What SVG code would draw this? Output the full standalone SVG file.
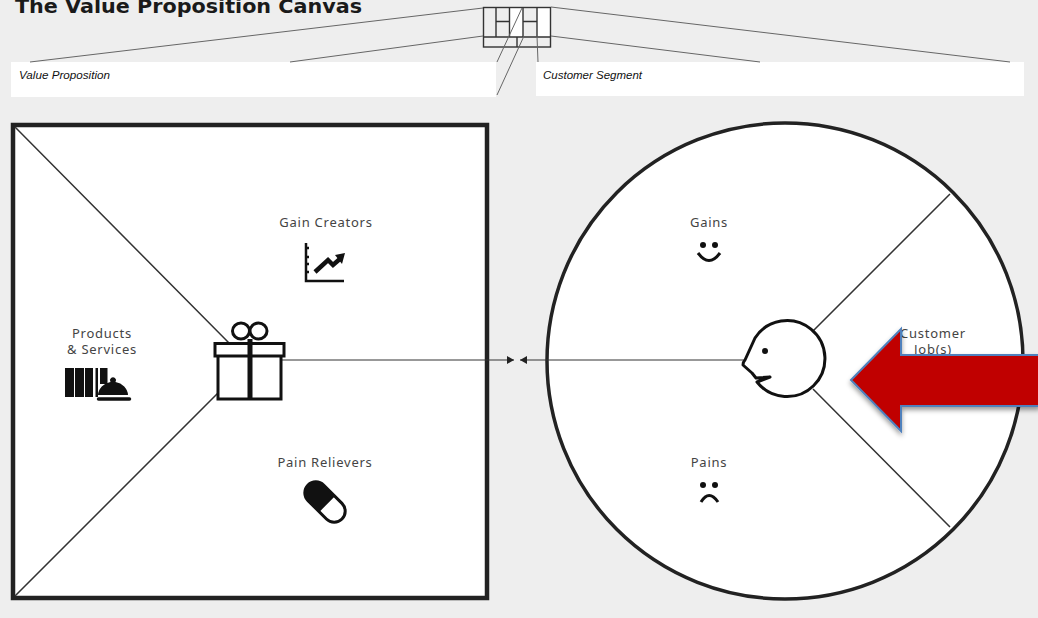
<svg xmlns="http://www.w3.org/2000/svg" width="1038" height="618" viewBox="0 0 1038 618">
<style>
.t{font-family:"Noto Sans","Liberation Sans",sans-serif;font-size:13px;fill:#444;text-anchor:middle;letter-spacing:.75px}
.i{font-family:"Liberation Sans",sans-serif;font-size:10.5px;font-style:italic;fill:#111}
.thin{fill:none;stroke:#666;stroke-width:1}
.div{fill:none;stroke:#333;stroke-width:1.5}
.s{fill:#111}
</style>
<defs>
<marker id="ah" markerWidth="8" markerHeight="8" refX="7" refY="4" orient="auto" markerUnits="userSpaceOnUse"><path d="M0,0L7,4L0,8z" fill="#222"/></marker>
<filter id="sh" x="-10%" y="-20%" width="120%" height="140%"><feDropShadow dx="0" dy="3" stdDeviation="2.500" flood-color="#000" flood-opacity=".4"/></filter>
</defs>
<rect width="1038" height="618" fill="#eeeeee"/>
<text x="15" y="13" font-family="DejaVu Sans,sans-serif" font-weight="700" font-size="19" fill="#1a1a1a" textLength="347" lengthAdjust="spacingAndGlyphs">The Value Proposition Canvas</text>

<g id="value-proposition-label"><rect x="11" y="62" width="485" height="35" fill="#fff"/><text class="i" x="19" y="79" textLength="91" lengthAdjust="spacingAndGlyphs">Value Proposition</text></g>
<g id="customer-segment-label"><rect x="536" y="62" width="488" height="34" fill="#fff"/><text class="i" x="543" y="79" textLength="99" lengthAdjust="spacingAndGlyphs">Customer Segment</text></g>

<g id="value-map">
<rect x="13" y="125" width="474" height="473" fill="#fff" stroke="#222" stroke-width="4.500"/>
<path class="div" d="M15,127L230,344M15,596L218,393"/>
</g>

<g id="customer-profile">
<circle cx="785" cy="361" r="238" fill="#fff" stroke="#222" stroke-width="3.500"/>
<path class="div" d="M813,331L950,194M813,389L950,527"/>
</g>

<g id="mini-canvas">
<path fill="#fff" d="M509,7h14v30h-14zM537,7h13v30h-13z"/>
<rect x="483.500" y="7.500" width="67" height="39.500" fill="none" stroke="#333" stroke-width="1.400"/>
<path fill="none" stroke="#333" stroke-width="1.400" d="M496,7.500V37M509.500,7.500V37M523,7.500V37M537,7.500V37M483.500,37H550.500M496,21.500H509.500M523,21.500H537M517,37V47"/>
</g>

<g id="connectors">
<path class="thin" d="M30,62L483,8M290,62L483,36M1010,62L551,7M760,62L551,36M497,62L522,8M497,95L524,36M538,62L537,36"/>
<path d="M281,360H514" fill="none" stroke="#333" stroke-width="1" marker-end="url(#ah)"/>
<path d="M745,360H520" fill="none" stroke="#333" stroke-width="1" marker-end="url(#ah)"/>
</g>

<g id="gift">
<ellipse cx="241" cy="331" rx="8.500" ry="8" fill="none" stroke="#111" stroke-width="3"/>
<ellipse cx="258.500" cy="331" rx="8.500" ry="8" fill="none" stroke="#111" stroke-width="3"/>
<rect x="218" y="355" width="63" height="44" fill="#fff" stroke="#111" stroke-width="3"/>
<rect x="215" y="343.500" width="69" height="12.500" fill="#fff" stroke="#111" stroke-width="3"/>
<rect x="247.500" y="339" width="5" height="60" class="s"/>
</g>

<g id="products-services">
<text class="t" x="102" y="338">Products</text><text class="t" x="102" y="354">&amp; Services</text>
<rect x="65" y="368" width="9" height="29" class="s"/><rect x="75" y="368" width="9" height="29" class="s"/><rect x="85" y="368" width="8" height="29" class="s"/><rect x="95.500" y="368" width="2.500" height="29" class="s"/><rect x="100" y="368" width="7.500" height="16" class="s"/>
<path class="s" d="M98,395a15.500,14,0,0,1,12.500,-13a3,3,0,1,1,5,0a15.500,14,0,0,1,12.500,13z"/>
<path d="M98.500,399H129.500" stroke="#111" stroke-width="3.500" stroke-linecap="round"/>
</g>

<g id="gain-creators">
<text class="t" x="326" y="227">Gain Creators</text>
<path d="M306,243V281H344" fill="none" stroke="#111" stroke-width="2.500"/>
<path d="M306,248h3M306,257h3M306,264h3M306,272h3" stroke="#111" stroke-width="2.500"/>
<path d="M315,272L328,260L333,265L341,258" fill="none" stroke="#111" stroke-width="4.500"/>
<path class="s" d="M335,255L345,253L342,264z"/>
</g>

<g id="pain-relievers">
<text class="t" x="325" y="467">Pain Relievers</text>
<g transform="translate(325,502) rotate(45)">
<rect x="-24" y="-11" width="48" height="22" rx="11" fill="#fff" stroke="#111" stroke-width="3"/>
<path class="s" d="M3,-11H-13a11,11,0,0,0,0,22H3z"/>
</g>
</g>

<g id="face">
<path d="M755,338A38,38,0,1,1,757,382L770,377L756,378L752,373L743,365Q743,362,745,360z" fill="#fff" stroke="#111" stroke-width="3" stroke-linejoin="round"/>
<circle cx="765" cy="351" r="3" class="s"/>
</g>

<g id="gains">
<text class="t" x="709" y="227">Gains</text>
<circle cx="703" cy="245" r="3" class="s"/><circle cx="715" cy="245" r="3" class="s"/>
<path d="M698,253Q709,268,720,253" fill="none" stroke="#111" stroke-width="3"/>
</g>

<g id="pains">
<text class="t" x="709" y="467">Pains</text>
<circle cx="703" cy="485" r="3" class="s"/><circle cx="715" cy="485" r="3" class="s"/>
<path d="M701,502Q709,489,718,502" fill="none" stroke="#111" stroke-width="3"/>
</g>

<g id="customer-jobs">
<text class="t" x="933" y="338">Customer</text><text class="t" x="933" y="354">Job(s)</text>
</g>

<g id="red-arrow">
<path d="M851,380L901,329V355H1039V406H901V431z" fill="#c00000" stroke="#4f81bd" stroke-width="2" filter="url(#sh)"/>
</g>
</svg>
